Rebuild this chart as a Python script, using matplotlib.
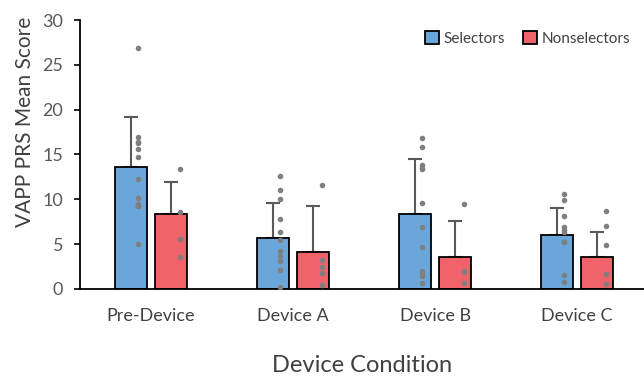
import matplotlib.pyplot as plt
import numpy as np

# Dados do gráfico
conditions = ['Pre-Device', 'Device A', 'Device B', 'Device C']
sel_mean = [13.55, 5.7, 8.4, 6.0]
sel_err = [5.6, 3.93, 6.08, 3.04]
non_mean = [8.33, 4.07, 3.6, 3.56]
non_err = [3.57, 5.15, 4.03, 2.81]

sel_points = [
    [26.85, 16.93, 16.44, 16.26, 15.63, 14.7, 12.22, 10.19, 9.52, 9.22, 9.22, 5.07],
    [12.6, 11.07, 10.07, 7.78, 6.37, 5.44, 4.26, 3.67, 3.11, 2.11, 0.26],
    [16.85, 15.89, 13.78, 13.52, 13.4, 9.63, 6.93, 4.67, 2.04, 1.74, 1.44, 0.63],
    [10.56, 9.96, 8.11, 6.93, 6.56, 6.37, 5.19, 5.19, 1.56, 0.74],
]
non_points = [
    [13.4, 8.6, 5.56, 5.56, 3.6],
    [11.63, 3.22, 2.41, 1.74, 0.44],
    [9.52, 2.04, 1.85, 0.7],
    [8.7, 7.0, 4.89, 1.63, 0.52],
]

plt.rcParams['font.family'] = ['Lato', 'DejaVu Sans']

blue = '#6ba6da'
red = '#f0636a'
gray_txt = '#595959'

fig = plt.figure(figsize=(6.44, 3.81), dpi=100)
ax = fig.add_axes([0.124, 0.2415, 0.876, 0.706])

x = np.arange(len(conditions))
w = 0.225
off = 0.141

ax.bar(x - off, sel_mean, w, color=blue, edgecolor='black', linewidth=1.3,
       label='Selectors', zorder=2)
ax.bar(x + off, non_mean, w, color=red, edgecolor='black', linewidth=1.3,
       label='Nonselectors', zorder=2)

# barras de erro só para cima
ax.errorbar(x - off, sel_mean, yerr=[np.zeros(4), sel_err], fmt='none',
            ecolor=gray_txt, elinewidth=1.5, capsize=5, capthick=1.5, zorder=1)
ax.errorbar(x + off, non_mean, yerr=[np.zeros(4), non_err], fmt='none',
            ecolor=gray_txt, elinewidth=1.5, capsize=5, capthick=1.5, zorder=1)

# pontos individuais
for i in range(len(conditions)):
    ax.scatter(np.full(len(sel_points[i]), x[i] - off + 0.05), sel_points[i],
               s=16, color='#7f7f7f', zorder=3, linewidths=0)
    ax.scatter(np.full(len(non_points[i]), x[i] + off + 0.065), non_points[i],
               s=16, color='#7f7f7f', zorder=3, linewidths=0)

ax.set_xlim(-0.5, 3.47)
ax.set_ylim(0, 30)
ax.set_yticks(range(0, 31, 5))
ax.set_xticks(x)
ax.set_xticklabels(conditions, fontsize=13, color='#404040')
ax.tick_params(axis='x', length=0, pad=14)
ax.tick_params(axis='y', direction='out', length=4, width=1.2,
               labelsize=13, labelcolor=gray_txt, pad=8)

for s in ['top', 'right']:
    ax.spines[s].set_visible(False)
ax.spines['left'].set_linewidth(1.3)
ax.spines['bottom'].set_linewidth(1.3)

ax.set_ylabel('VAPP PRS Mean Score', fontsize=15, color='#404040')
ax.yaxis.set_label_coords(-0.08, 0.62)
ax.set_xlabel('Device Condition', fontsize=17, color='#404040', labelpad=22)

ax.legend(loc='upper right', bbox_to_anchor=(1.0, 1.01), frameon=False, fontsize=11,
          handlelength=0.9, handleheight=0.9, handletextpad=0.3, columnspacing=1.2,
          ncol=2, labelcolor='#404040')

plt.savefig('out.png', dpi=100)
